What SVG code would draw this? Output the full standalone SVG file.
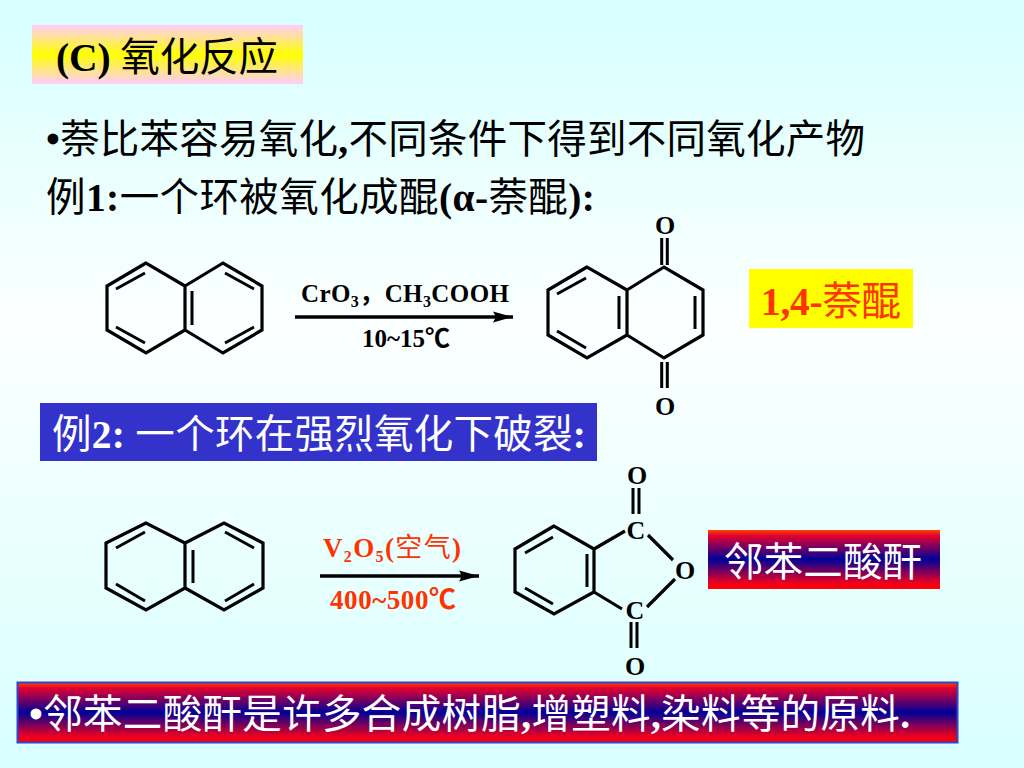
<svg xmlns="http://www.w3.org/2000/svg" width="1024" height="768" viewBox="0 0 1024 768">
<defs>
<linearGradient id="bg" x1="0" y1="0" x2="0" y2="1"><stop offset="0" stop-color="#d6ffff"/><stop offset="0.42" stop-color="#fcffff"/><stop offset="1" stop-color="#d8ffff"/></linearGradient>
<linearGradient id="pinkYellow" x1="0" y1="0" x2="0" y2="1"><stop offset="0" stop-color="#ffccff"/><stop offset="0.5" stop-color="#ffff00"/><stop offset="1" stop-color="#ffccff"/></linearGradient>
<linearGradient id="redNavy" x1="0" y1="0" x2="0" y2="1"><stop offset="0" stop-color="#ff4400"/><stop offset="0.1" stop-color="#e00030"/><stop offset="0.5" stop-color="#000099"/><stop offset="0.9" stop-color="#ee0020"/><stop offset="1" stop-color="#ff0000"/></linearGradient>
<marker id="head" markerUnits="userSpaceOnUse" markerWidth="22" markerHeight="14" refX="20" refY="7" orient="auto"><path d="M0 1.500 L20 7 L0 12.500 L3 7 Z" fill="#000"/></marker>
</defs>
<style>
text{font-family:"Liberation Serif","Noto Sans CJK SC",serif}
.bond{fill:none;stroke:#000;stroke-width:3.2;stroke-linejoin:miter}
.inner{fill:none;stroke:#000;stroke-width:3}
.big{font-size:39.5px;font-weight:400;fill:#000}
.lat{font-weight:700}
.atom{font-size:26px;font-weight:700;text-anchor:middle;fill:#000}
.rg{font-size:25px;font-weight:700;fill:#000}
.rg2{font-size:27px;font-weight:700}
.sub{font-size:16px}
.w{fill:#fff}
.r{fill:#ff3300}
.arrow{stroke:#000;stroke-width:3.6;fill:none;marker-end:url(#head)}
</style>
<rect width="1024" height="768" fill="url(#bg)"/>

<g id="title">
<rect x="32" y="25" width="271" height="59" fill="url(#pinkYellow)"/>
<text class="big" x="56" y="71" textLength="222"><tspan class="lat">(C) </tspan>氧化反应</text>
</g>
<g id="line1">
<text class="big" x="46" y="153" textLength="819"><tspan class="lat">•</tspan>萘比苯容易氧化<tspan class="lat">,</tspan>不同条件下得到不同氧化产物</text>
</g>
<g id="line2">
<text class="big" x="46" y="211" textLength="549">例<tspan class="lat">1:</tspan>一个环被氧化成醌<tspan class="lat">(α-</tspan>萘醌<tspan class="lat">):</tspan></text>
</g>

<g id="naphthalene-1">
<path class="bond" d="M146 263 L107 286 V330 L146 353 L185 330 V286 Z M185 286 L223 263 L262 286 V330 L223 353 L185 330"/>
<path class="inner" d="M116 289 L145 273 M116 327 L145 343 M192 291 V325 M225 273 L254 289 M225 343 L254 327"/>
</g>
<g id="reagents-1">
<text class="rg" x="301" y="302" textLength="208">CrO<tspan class="sub" dy="5">3</tspan><tspan dy="-5">，CH</tspan><tspan class="sub" dy="5">3</tspan><tspan dy="-5">COOH</tspan></text>
<text class="rg" x="362" y="347" textLength="88">10~15℃</text>
</g>
<g id="naphthoquinone">
<path class="bond" d="M587 267 L548 290 V335 L587 358 L627 335 V290 Z M627 290 L664 267 L703 290 V335 L664 358 L627 335"/>
<path class="inner" d="M557 294 L586 278 M557 331 L586 348 M619 296 V329 M695 296 V329 M661.700 238 V265 M667.300 238 V265 M661.700 362 V388 M667.300 362 V388"/>
<text class="atom" x="665" y="234">O</text>
<text class="atom" x="665" y="415">O</text>
</g>
<g id="label-naphthoquinone">
<rect x="749" y="269" width="164" height="59" fill="#ffff00"/>
<text class="big r" x="761" y="315" textLength="140"><tspan class="lat">1,4-</tspan>萘醌</text>
</g>

<g id="example2">
<rect x="40" y="403" width="557" height="58" fill="#3333cc"/>
<text class="big w" x="52" y="448" textLength="534">例<tspan class="lat">2: </tspan>一个环在强烈氧化下破裂<tspan class="lat">:</tspan></text>
</g>

<g id="naphthalene-2">
<path class="bond" d="M146 523 L106 543 V588 L146 610 L185 588 V543 Z M185 543 L224 523 L263 543 V588 L224 610 L185 588"/>
<path class="inner" d="M116 548 L145 532 M116 584 L145 601 M193 550 V583 M225 532 L254 548 M225 601 L254 584"/>
</g>
<g id="reagents-2">
<text class="rg2 r" x="323" y="557" textLength="138">V<tspan class="sub" dy="5">2</tspan><tspan dy="-5">O</tspan><tspan class="sub" dy="5">5</tspan><tspan dy="-5">(</tspan><tspan font-weight="400">空气</tspan>)</text>
<text class="rg2 r" x="330" y="609" textLength="126">400~500℃</text>
</g>
<g id="phthalic-anhydride">
<path class="bond" d="M554 526 L515 549 V592 L554 614 L594 592 V549 Z M594 549 L625 531 M594 592 L622 609 M648 535 L673 560 M675 579 L647 607"/>
<path class="inner" d="M525 553 L553 537 M525 588 L553 604 M587 554 V587 M633 488 V514 M639 488 V514 M631 622 V648 M637 622 V648"/>
<text class="atom" x="637" y="484">O</text>
<text class="atom" x="636" y="539">C</text>
<text class="atom" x="685" y="579">O</text>
<text class="atom" x="635" y="619">C</text>
<text class="atom" x="635" y="675">O</text>
</g>
<g id="label-anhydride">
<rect x="708" y="530" width="232" height="59" fill="url(#redNavy)"/>
<text class="big w" x="724" y="576" textLength="198">邻苯二酸酐</text>
</g>

<g id="footer">
<rect x="17.500" y="682.500" width="940" height="60" fill="url(#redNavy)" stroke="#3344cc" stroke-width="2"/>
<text class="big w" x="29" y="728" textLength="881"><tspan class="lat">•</tspan>邻苯二酸酐是许多合成树脂<tspan class="lat">,</tspan>增塑料<tspan class="lat">,</tspan>染料等的原料<tspan class="lat">.</tspan></text>
</g>

<g id="connectors">
<line class="arrow" x1="295" y1="317" x2="513" y2="317"/>
<line class="arrow" x1="320" y1="576" x2="479" y2="576"/>
</g>
</svg>
